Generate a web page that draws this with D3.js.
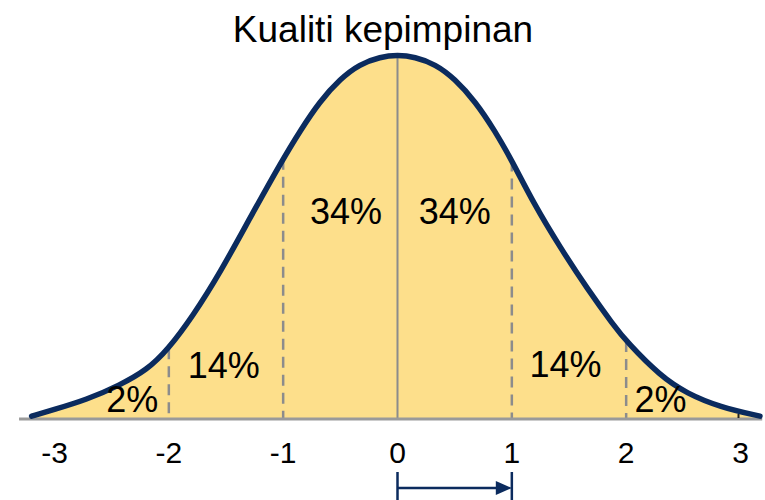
<!DOCTYPE html>
<html>
<head>
<meta charset="utf-8">
<script src="https://cdn.jsdelivr.net/npm/d3@7"></script>
<style>
  body { margin: 0; background: #fff; }
  text { font-family: "Liberation Sans", Arial, sans-serif; fill: #000; }
</style>
</head>
<body>
<div id="chart"></div>
<script>
const width = 765
const height = 500

const title = 'Kualiti kepimpinan'

// curve (x in standard deviations, y as density)
const curveX = [-3.2, -3.01, -2.72, -2.43, -2.19, -2.01, -1.79, -1.55, -1.29, -1.01, -0.85, -0.68, -0.5, -0.33, -0.15, 0,
  0.15, 0.33, 0.5, 0.68, 0.85, 1.0, 1.19, 1.42, 1.66, 1.89, 2.01, 2.3, 2.53, 2.82, 3.17]
const curveY = [0.002, 0.009, 0.02, 0.036, 0.053, 0.075, 0.112, 0.16, 0.22, 0.283, 0.316, 0.348, 0.373, 0.389, 0.397, 0.399,
  0.397, 0.389, 0.373, 0.348, 0.316, 0.283, 0.236, 0.188, 0.142, 0.102, 0.083, 0.046, 0.027, 0.012, 0.002]

const tickValues = [-3, -2, -1, 0, 1, 2, 3]
const dashedAt = [-2, -1, 1, 2]
const bandLabels = ['2%', '14%', '34%', '34%', '14%', '2%']
const bandCenters = [-2.32, -1.52, -0.45, 0.5, 1.47, 2.30]
const bandLabelY = [0.007, 0.044, 0.213, 0.213, 0.045, 0.007]

const x = d3.scaleLinear().domain([-3, 3]).range([54.5, 740.5])
const y = d3.scaleLinear().domain([0, 0.399]).range([418, 55])

const svg = d3.select('#chart').append('svg').attr('width', width).attr('height', height)

const points = curveX.map((d, i) => ({ x: d, y: curveY[i] }))

// linear lookup of the curve height at a given x
function curveAt(v) {
  const i = d3.bisector(d => d.x).left(points, v)
  if (i <= 0) return points[0].y
  if (i >= points.length) return points[points.length - 1].y
  const a = points[i - 1], b = points[i]
  return a.y + (b.y - a.y) * (v - a.x) / (b.x - a.x)
}

const area = d3.area().x(d => x(d.x)).y0(y(0)).y1(d => y(d.y)).curve(d3.curveBasis)
const line = d3.line().x(d => x(d.x)).y(d => y(d.y)).curve(d3.curveBasis)

svg.append('path').datum(points).attr('d', area).attr('fill', '#fddf8b')

// dashed dividers
svg.selectAll('.divider').data(dashedAt).enter().append('line')
  .attr('class', 'divider')
  .attr('x1', d => x(d)).attr('x2', d => x(d))
  .attr('y1', d => y(curveAt(d))).attr('y2', y(0))
  .attr('stroke', '#8c8c8c').attr('stroke-width', 2.5)
  .attr('stroke-dasharray', '11,7')

// mean line
svg.append('line')
  .attr('x1', x(0)).attr('x2', x(0))
  .attr('y1', y(curveAt(0))).attr('y2', y(0))
  .attr('stroke', '#8c8c8c').attr('stroke-width', 2)

// axis baseline
svg.append('line')
  .attr('x1', x(-3.31)).attr('x2', x(3.19))
  .attr('y1', y(0) + 1).attr('y2', y(0) + 1)
  .attr('stroke', '#9a9a9a').attr('stroke-width', 3)

svg.append('line')
  .attr('x1', x(3) - 2).attr('x2', x(3) - 2)
  .attr('y1', y(0) - 4).attr('y2', y(0))
  .attr('stroke', '#222').attr('stroke-width', 2)

svg.append('path').datum(points).attr('d', line)
  .attr('fill', 'none').attr('stroke', '#0b2b5e').attr('stroke-width', 5.5)
  .attr('stroke-linecap', 'round')

// tick labels
svg.selectAll('.tick-label').data(tickValues).enter().append('text')
  .attr('class', 'tick-label')
  .attr('x', d => x(d)).attr('y', 463)
  .attr('text-anchor', 'middle')
  .attr('font-size', 30)
  .text(d => d)

// band percentages
svg.selectAll('.band').data(bandLabels).enter().append('text')
  .attr('class', 'band')
  .attr('x', (d, i) => x(bandCenters[i]))
  .attr('y', (d, i) => y(bandLabelY[i]))
  .attr('text-anchor', 'middle')
  .attr('font-size', 36)
  .text(d => d)

svg.append('text')
  .attr('x', 383).attr('y', 42)
  .attr('text-anchor', 'middle')
  .attr('font-size', 37)
  .text(title)

// one standard deviation arrow
const arrowY = 488
svg.append('line').attr('x1', x(0)).attr('x2', x(0)).attr('y1', arrowY - 16).attr('y2', arrowY + 14)
  .attr('stroke', '#0b2b5e').attr('stroke-width', 2.5)
svg.append('line').attr('x1', x(1)).attr('x2', x(1)).attr('y1', arrowY - 16).attr('y2', arrowY + 14)
  .attr('stroke', '#0b2b5e').attr('stroke-width', 2.5)
svg.append('line').attr('x1', x(0)).attr('x2', x(1) - 14).attr('y1', arrowY).attr('y2', arrowY)
  .attr('stroke', '#0b2b5e').attr('stroke-width', 2.5)
svg.append('path')
  .attr('d', `M${x(1)},${arrowY} L${x(1) - 16},${arrowY - 7} L${x(1) - 16},${arrowY + 7} Z`)
  .attr('fill', '#0b2b5e')
</script>
</body>
</html>
